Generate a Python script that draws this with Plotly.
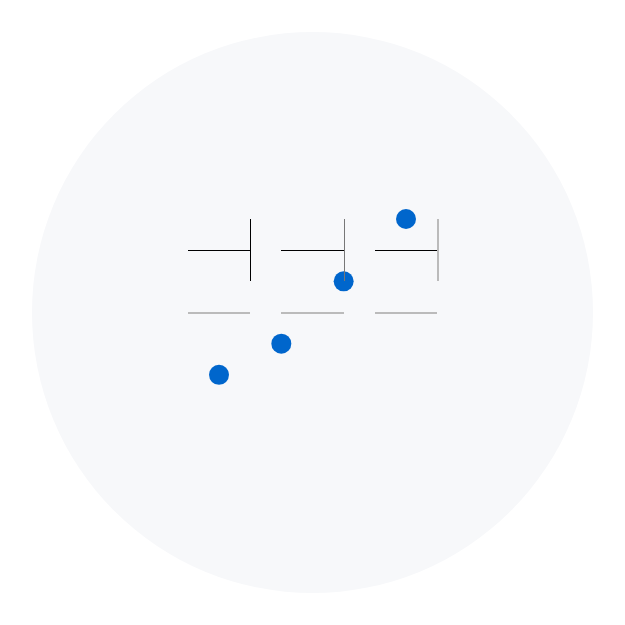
import plotly.graph_objects as go

# Data
point_x = [3, 4, 5, 6]
point_y = [3.5, 4, 5, 6]
axis_range = [0, 9]

# Small panel domains (in main-axis units)
panel_x_spans = [[2.5, 3.5], [4.0, 5.0], [5.5, 6.5]]
panel_y_span = [5.0, 6.0]
panel_base = 4.5
panel_right_line_colors = ["#000000", "#777777", "#bbbbbb"]
panel_right_line_widths = [1, 1, 2]

fig = go.Figure()

fig.add_shape(type="circle", xref="paper", yref="paper",
              x0=0, y0=0, x1=1, y1=1,
              fillcolor="#f7f8fa", line=dict(width=0), layer="below")

span = axis_range[1] - axis_range[0]
layout = dict(
    autosize=True,
    margin=dict(l=24, r=24, t=24, b=24),
    paper_bgcolor="white", plot_bgcolor="rgba(0,0,0,0)",
    showlegend=False,
    xaxis=dict(domain=[0, 1], range=axis_range, visible=False),
    yaxis=dict(domain=[0, 1], range=axis_range, visible=False),
)

for i, (sp, lc, lw) in enumerate(zip(panel_x_spans, panel_right_line_colors, panel_right_line_widths)):
    n = i + 2
    layout[f"xaxis{n}"] = dict(domain=[sp[0] / span, sp[1] / span], range=[0, 1],
                               anchor="free", position=panel_base / span,
                               showline=True, linecolor="#bbbbbb", linewidth=2,
                               showgrid=False, zeroline=False, showticklabels=False, ticks="")
    layout[f"yaxis{n}"] = dict(domain=[panel_y_span[0] / span, panel_y_span[1] / span], range=[-1, 1],
                               anchor=f"x{n}", side="right",
                               showline=True, linecolor=lc, linewidth=lw,
                               showgrid=False, zeroline=True, zerolinecolor="#000000", zerolinewidth=1,
                               showticklabels=False, ticks="")
    fig.add_trace(go.Scatter(x=[None], y=[None], xaxis=f"x{n}", yaxis=f"y{n}",
                             mode="markers", hoverinfo="skip"))

fig.add_trace(go.Scatter(x=point_x, y=point_y, mode="markers",
                         marker=dict(size=20, color="#0066cc"),
                         xaxis="x", yaxis="y", cliponaxis=False))

fig.update_layout(**layout)
fig.write_html("out.html")
